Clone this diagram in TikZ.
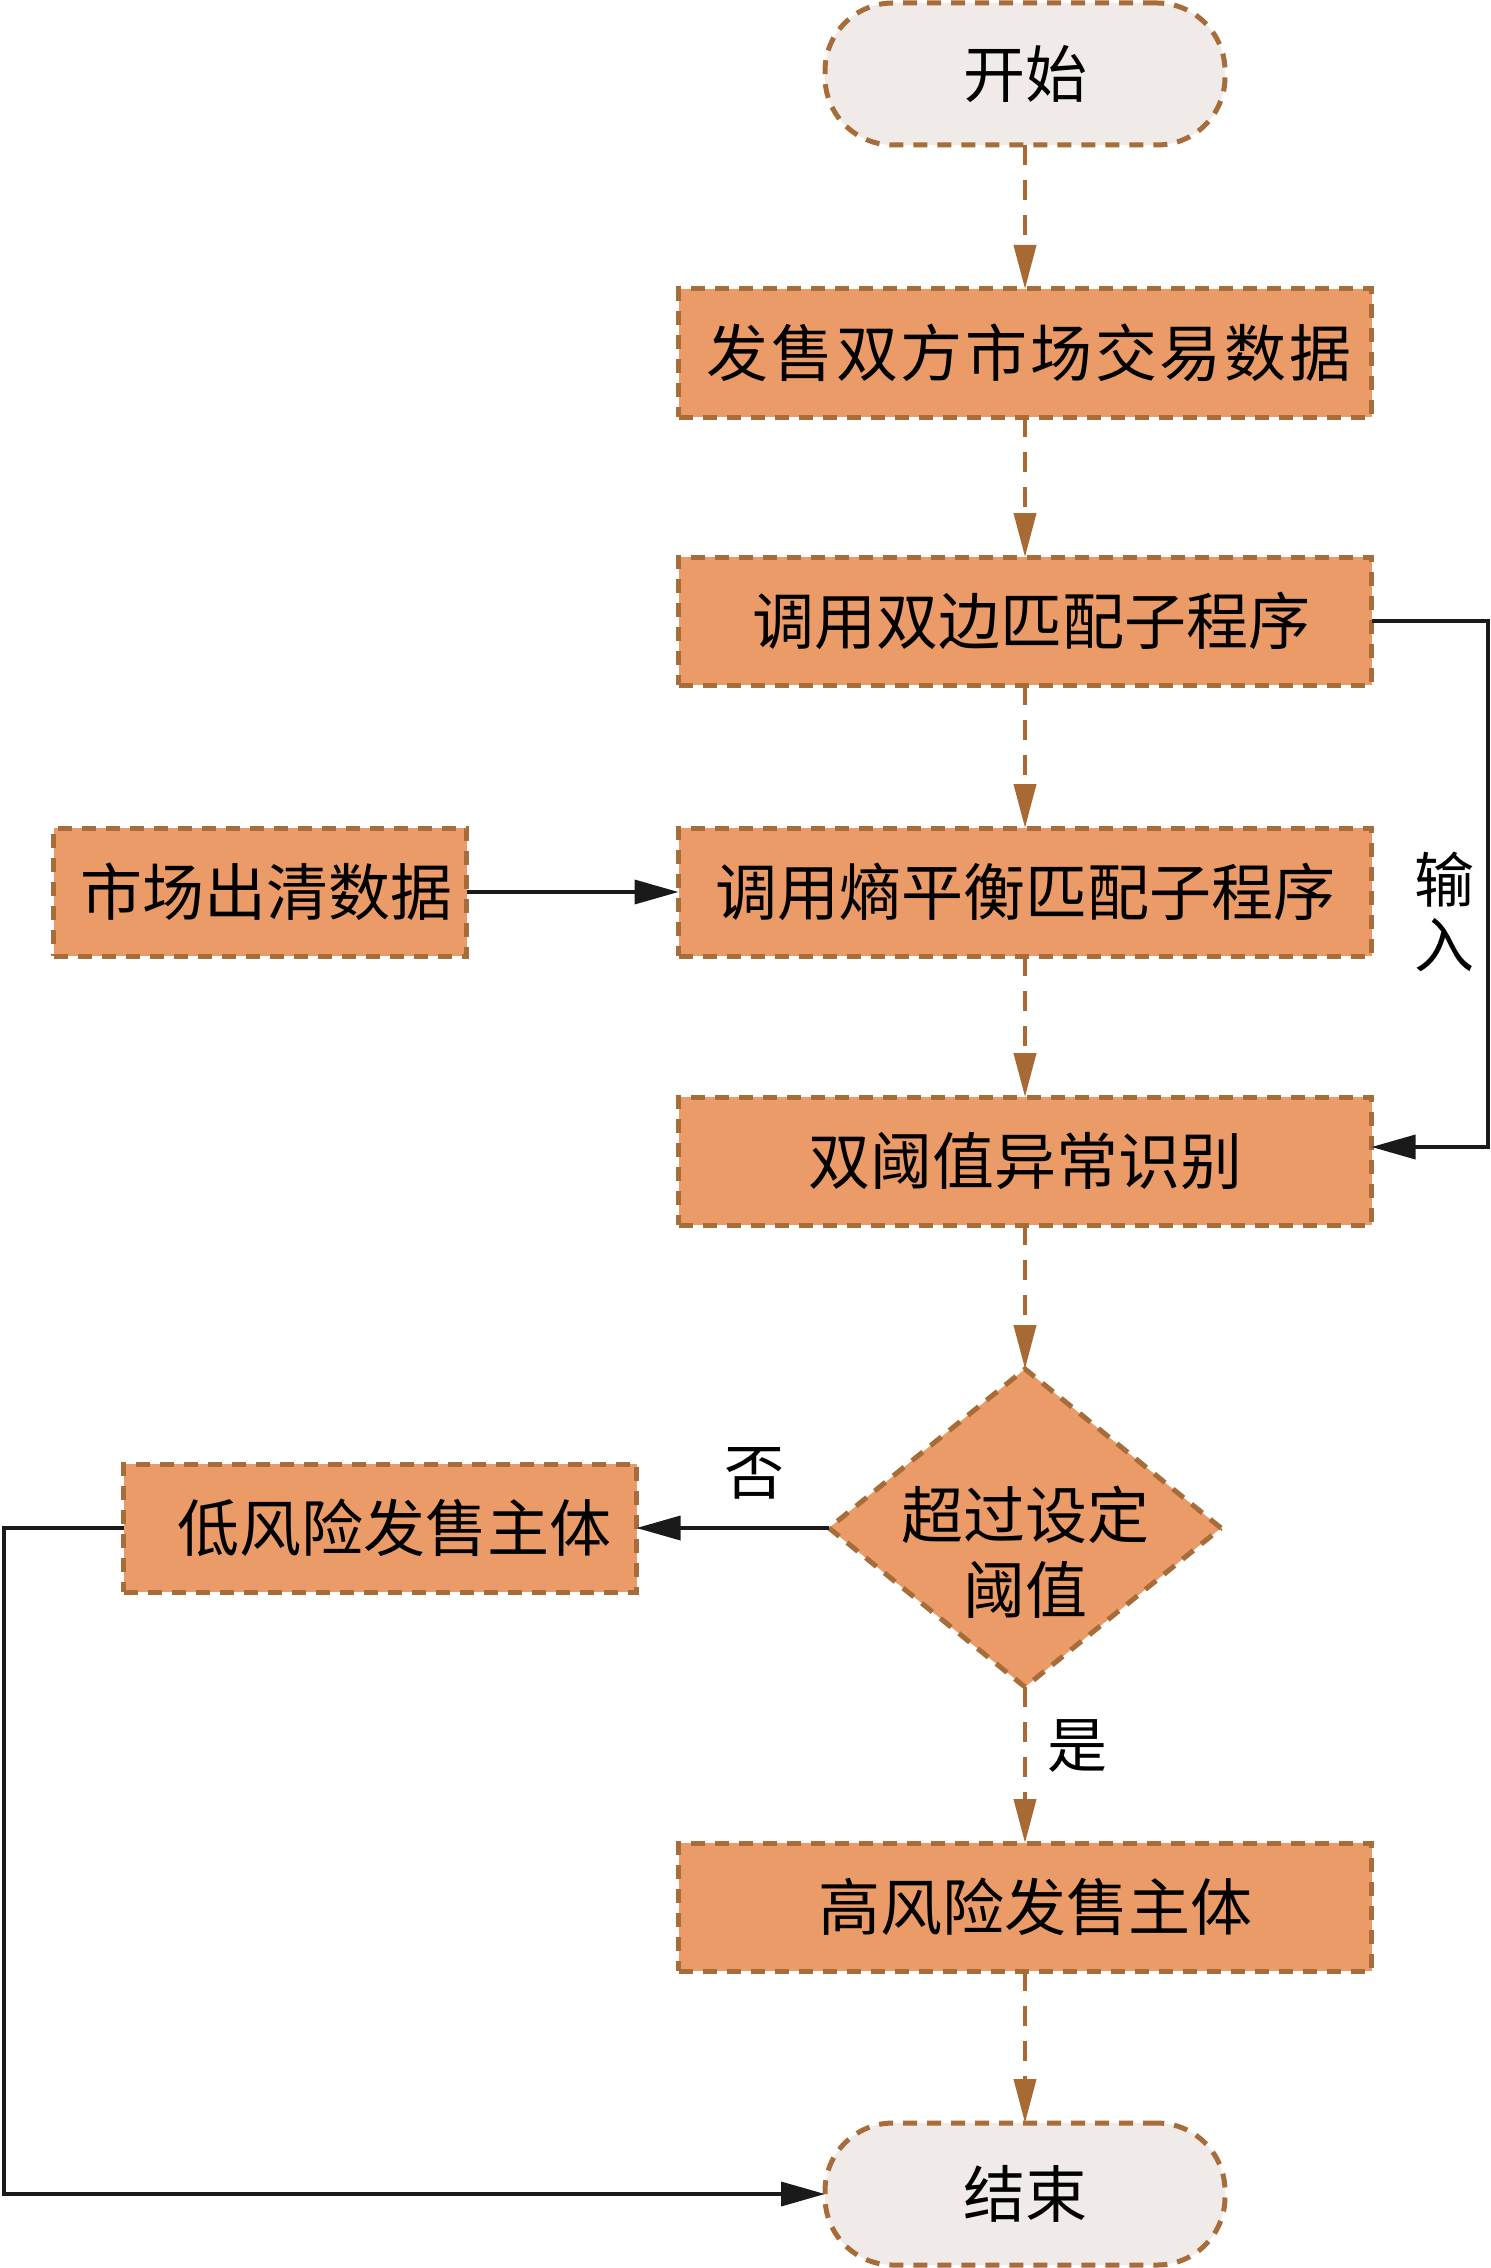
\documentclass[tikz,border=0pt]{standalone}
\usepackage{fontspec}
\setmainfont{Noto Sans CJK SC}
\newfontfamily\cjkwide{Noto Sans CJK SC}[LetterSpace=4.5]
\usetikzlibrary{shapes.geometric,arrows.meta}
\definecolor{boxfill}{HTML}{EB9B67}
\definecolor{boxline}{HTML}{A66D3B}
\definecolor{termfill}{HTML}{F0EBE9}
\definecolor{flowbrown}{HTML}{A86A34}
\definecolor{solidblack}{HTML}{1A1A1A}
\begin{document}
\begin{tikzpicture}[x=0.5pt,y=-0.5pt,
  every node/.style={font=\fontsize{31pt}{37.5pt}\selectfont, inner sep=0pt, outer sep=0pt},
  procbox/.style={draw=boxline, fill=boxfill, line width=2.5pt, dash pattern=on 7pt off 5pt, minimum height=64pt, minimum width=346.5pt},
  terminal/.style={draw=boxline, fill=termfill, line width=2.5pt, dash pattern=on 7pt off 5pt, rounded corners=34pt, minimum width=200pt, minimum height=71pt},
  decision/.style={diamond, draw=boxline, fill=boxfill, line width=2.5pt, dash pattern=on 7pt off 5pt, minimum width=196pt, minimum height=159pt},
  flowdash/.style={draw=flowbrown, line width=2pt, dash pattern=on 10pt off 7.5pt, -{Triangle[length=22pt,width=11pt,fill=flowbrown]}},
  flowsolid/.style={draw=solidblack, line width=1.8pt, -{Triangle[length=22pt,width=12pt]}},
  lbl/.style={font=\fontsize{30pt}{32.5pt}\selectfont, align=center},
]
\useasboundingbox (0,0) rectangle (1491,2268);

\node[terminal] (start) at (1025,74) {开始\hspace{14pt}};
\node[procbox] (A) at (1025,353) {\hspace{4pt}\cjkwide 发售双方市场交易数据};
\node[procbox] (B) at (1025,621) {\hspace{6pt}调用双边匹配子程序};
\node[procbox] (C) at (1025,892) {调用熵平衡匹配子程序};
\node[procbox, minimum width=206.5pt] (D) at (260,892) {\hspace{6pt}市场出清数据};
\node[procbox] (E) at (1025,1161) {双阈值异常识别\hspace{16pt}};
\node[decision] (dec) at (1025,1528) {};
\node[align=center] (dectext) at (1025,1552) {超过设定\\阈值};
\node[procbox, minimum width=256.5pt] (F) at (380,1528) {\hspace{14pt}低风险发售主体};
\node[procbox] (G) at (1025,1907) {\hspace{10pt}高风险发售主体};
\node[terminal] (end) at (1025,2194) {结束};

\node[lbl] (no) at (754,1473) {否};
\node[lbl] (yes) at (1077,1746) {是};
\node[lbl] (inp) at (1444,912) {输\\入};

\coordinate (rt) at (1488,622);
\coordinate (lf) at (4,1528);

\draw[flowdash] (start.south) -- (A.north);
\draw[flowdash] (A.south) -- (B.north);
\draw[flowdash] (B.south) -- (C.north);
\draw[flowdash] (C.south) -- (E.north);
\draw[flowdash] (E.south) -- (dec.north);
\draw[flowdash] (dec.south) -- (G.north);
\draw[flowdash] (G.south) -- (end.north);

\draw[flowsolid] (D.east) -- (C.west);
\draw[flowsolid] (dec.west) -- (F.east);
\draw[flowsolid] (B.east) -- (B.east -| rt) |- ([yshift=7pt]E.east);
\draw[flowsolid] (F.west) -- (F.west -| lf) |- (end.west);
\end{tikzpicture}
\end{document}
